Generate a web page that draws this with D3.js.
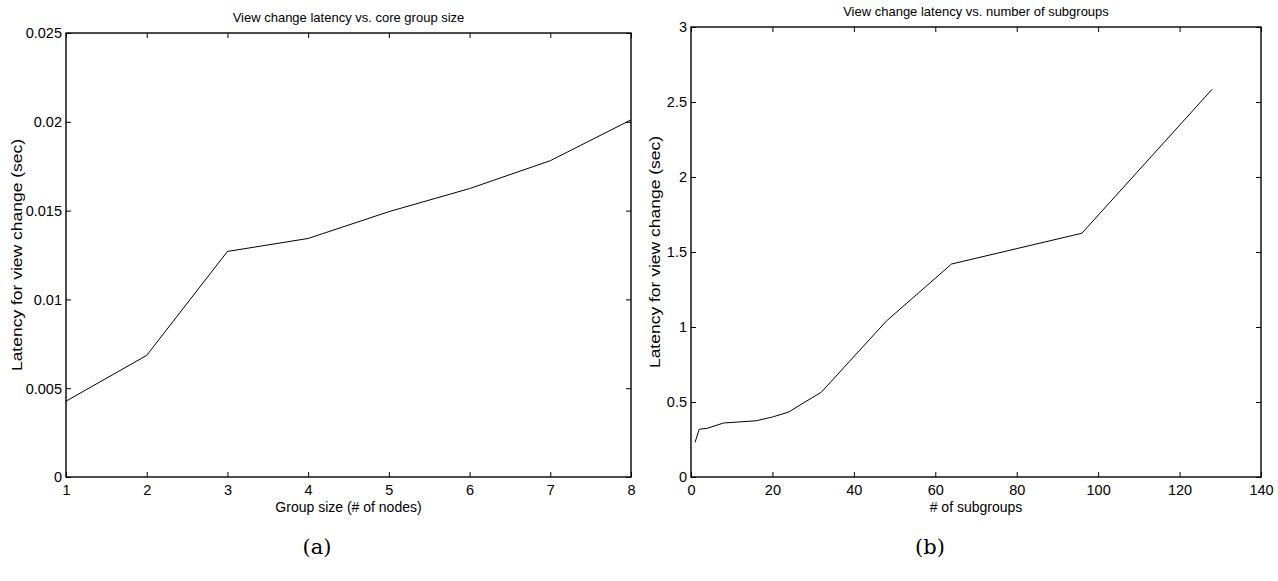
<!DOCTYPE html>
<html><head><meta charset="utf-8">
<script src="https://cdn.jsdelivr.net/npm/d3@7"></script>
<style>
html,body{margin:0;padding:0;background:#fff;}
text{font-family:"Liberation Sans",Arial,Helvetica,sans-serif;fill:#000;}
</style></head>
<body>
<svg id="c" width="1278" height="581"></svg>
<script>
// Panel (a)
const groupSizes = [1, 2, 3, 4, 5, 6, 7, 8];
const groupLatency = [0.00427, 0.00685, 0.0127, 0.01343, 0.01494, 0.01624, 0.01781, 0.02011];
const aXTicks = [1, 2, 3, 4, 5, 6, 7, 8];
const aYTicks = [0, 0.005, 0.01, 0.015, 0.02, 0.025];
const aYTickLabels = ["0", "0.005", "0.01", "0.015", "0.02", "0.025"];

// Panel (b)
const subgroups = [1, 2, 4, 8, 16, 20, 24, 28, 32, 48, 64, 96, 128];
const subgroupLatency = [0.231, 0.318, 0.325, 0.36, 0.375, 0.40, 0.433, 0.50, 0.565, 1.04, 1.42, 1.625, 2.585];
const bXTicks = [0, 20, 40, 60, 80, 100, 120, 140];
const bYTicks = [0, 0.5, 1, 1.5, 2, 2.5, 3];
const bYTickLabels = ["0", "0.5", "1", "1.5", "2", "2.5", "3"];

const svg = d3.select("#c");

function panel(cfg) {
  const g = svg.append("g");
  const x = d3.scaleLinear().domain(cfg.xDomain).range([cfg.left, cfg.right]);
  const y = d3.scaleLinear().domain(cfg.yDomain).range([cfg.bottom, cfg.top]);
  const tl = 5;
  const xb = d3.axisBottom(x).tickValues(cfg.xTicks).tickSize(-tl).tickPadding(6).tickFormat(d3.format("d"));
  const xt = d3.axisTop(x).tickValues(cfg.xTicks).tickSize(-tl).tickFormat("");
  const yl = d3.axisLeft(y).tickValues(cfg.yTicks).tickSize(-tl).tickPadding(4)
      .tickFormat((d, i) => cfg.yLabels[i]);
  const yr = d3.axisRight(y).tickValues(cfg.yTicks).tickSize(-tl).tickFormat("");
  const fs = "14.5px";
  const gb = g.append("g").attr("transform", `translate(0,${cfg.bottom})`).call(xb);
  const gt = g.append("g").attr("transform", `translate(0,${cfg.top})`).call(xt);
  const gl = g.append("g").attr("transform", `translate(${cfg.left},0)`).call(yl);
  const gr = g.append("g").attr("transform", `translate(${cfg.right},0)`).call(yr);
  [gb, gt, gl, gr].forEach(a => {
    a.select(".domain").remove();
    a.selectAll("line").attr("stroke", "#000").attr("stroke-width", 1);
    a.selectAll("text").style("font-size", fs).style("font-family", '"Liberation Sans",Arial,sans-serif').attr("fill", "#000");
  });
  gb.selectAll("text").attr("dy", "0.85em");
  gl.selectAll("text").attr("dy", "0.34em");
  g.append("rect").attr("x", cfg.left).attr("y", cfg.top)
    .attr("width", cfg.right - cfg.left).attr("height", cfg.bottom - cfg.top)
    .attr("fill", "none").attr("stroke", "#000").attr("stroke-width", 1.4);
  const line = d3.line().x(d => x(d[0])).y(d => y(d[1]));
  g.append("path").datum(cfg.xs.map((v, i) => [v, cfg.ys[i]]))
    .attr("d", line).attr("fill", "none").attr("stroke", "#000").attr("stroke-width", 1);
  g.append("text").attr("x", (cfg.left + cfg.right) / 2).attr("y", cfg.titleY)
    .attr("text-anchor", "middle").style("font-size", "13px").text(cfg.title);
  g.append("text").attr("x", (cfg.left + cfg.right) / 2).attr("y", 512)
    .attr("text-anchor", "middle").style("font-size", "14px").text(cfg.xLabel);
  g.append("text").attr("transform", `translate(${cfg.yLabelX},${(cfg.top + cfg.bottom) / 2}) scale(1,1.25) rotate(-90)`)
    .attr("text-anchor", "middle").style("font-size", "14px").text(cfg.yLabel);
  g.append("text").attr("x", cfg.capX).attr("y", 554).attr("text-anchor", "middle")
    .style("font-family", '"DejaVu Serif","Liberation Serif",serif').style("font-size", "21px")
    .text(cfg.caption);
}

panel({
  xDomain: [1, 8], yDomain: [0, 0.025],
  left: 66, right: 631, top: 33, bottom: 477,
  xTicks: aXTicks, yTicks: aYTicks, yLabels: aYTickLabels,
  xs: groupSizes, ys: groupLatency,
  title: "View change latency vs. core group size", titleY: 22,
  xLabel: "Group size (# of nodes)",
  yLabel: "Latency for view change (sec)", yLabelX: 22,
  caption: "(a)", capX: 317
});

panel({
  xDomain: [0, 140], yDomain: [0, 3],
  left: 691, right: 1261, top: 27, bottom: 477,
  xTicks: bXTicks, yTicks: bYTicks, yLabels: bYTickLabels,
  xs: subgroups, ys: subgroupLatency,
  title: "View change latency vs. number of subgroups", titleY: 16,
  xLabel: "# of subgroups",
  yLabel: "Latency for view change (sec)", yLabelX: 660,
  caption: "(b)", capX: 930
});
</script>
</body></html>
